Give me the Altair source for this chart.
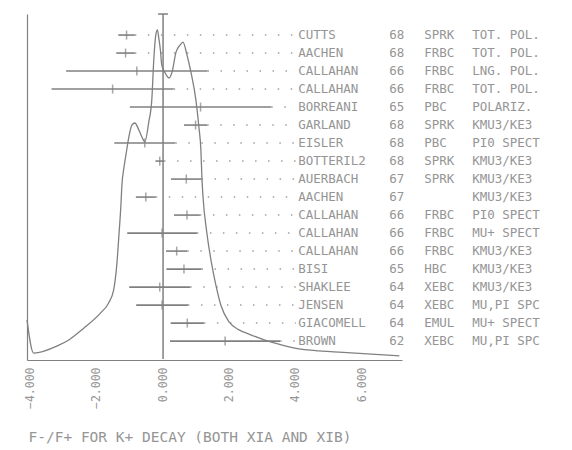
import altair as alt
import pandas as pd

# ---------------- data ----------------
names = ["CUTTS", "AACHEN", "CALLAHAN", "CALLAHAN", "BORREANI", "GARLAND", "EISLER",
         "BOTTERIL2", "AUERBACH", "AACHEN", "CALLAHAN", "CALLAHAN", "CALLAHAN", "BISI",
         "SHAKLEE", "JENSEN", "GIACOMELL", "BROWN"]
years = ["68", "68", "66", "66", "65", "68", "68", "68", "67", "67", "66", "66", "66",
         "65", "64", "64", "64", "62"]
detectors = ["SPRK", "FRBC", "FRBC", "FRBC", "PBC", "SPRK", "PBC", "SPRK", "SPRK", "",
             "FRBC", "FRBC", "FRBC", "HBC", "XEBC", "XEBC", "EMUL", "XEBC"]
comments = ["TOT. POL.", "TOT. POL.", "LNG. POL.", "TOT. POL.", "POLARIZ.", "KMU3/KE3",
            "PI0 SPECT", "KMU3/KE3", "KMU3/KE3", "KMU3/KE3", "PI0 SPECT", "MU+ SPECT",
            "KMU3/KE3", "KMU3/KE3", "KMU3/KE3", "MU,PI SPC", "MU+ SPECT", "MU,PI SPC"]
values = [-1.10, -1.13, -0.79, -1.52, 1.13, 0.98, -0.55, -0.10, 0.70, -0.52, 0.72,
          -0.03, 0.41, 0.63, -0.10, -0.03, 0.73, 1.87]
errors = [0.25, 0.28, 2.13, 1.84, 2.13, 0.35, 0.92, 0.13, 0.46, 0.30, 0.39, 1.05,
          0.32, 0.53, 0.92, 0.78, 0.50, 1.66]

# ideogram curve (x, relative height)
curve_x = [-4.10, -3.90, -3.14, -2.84, -2.39, -1.88, -1.64, -1.49, -1.39, -1.33, -1.27,
           -1.24, -1.18, -1.12, -1.03, -0.94, -0.85, -0.73, -0.64, -0.55, -0.43, -0.34,
           -0.28, -0.22, -0.17, -0.13, -0.08, -0.04, 0.05, 0.18, 0.27, 0.39, 0.51, 0.60,
           0.72, 0.84, 0.99, 1.08, 1.14, 1.17, 1.20, 1.32, 1.47, 1.59, 1.74, 1.99, 2.29,
           2.59, 3.05, 3.59, 4.10, 5.30, 7.12]
curve_h = [0.116, 0.020, 0.043, 0.058, 0.092, 0.136, 0.165, 0.202, 0.280, 0.361, 0.448,
           0.506, 0.555, 0.592, 0.645, 0.679, 0.685, 0.665, 0.645, 0.630, 0.688, 0.751,
           0.867, 0.939, 0.954, 0.931, 0.896, 0.853, 0.832, 0.815, 0.832, 0.890, 0.910,
           0.919, 0.882, 0.832, 0.751, 0.673, 0.607, 0.529, 0.477, 0.367, 0.275, 0.217,
           0.159, 0.110, 0.087, 0.075, 0.058, 0.043, 0.032, 0.023, 0.012]

avg_value = [0.0]
avg_error = [0.15]

tick_values = [-4, -2, 0, 2, 4, 6]
X_MIN, X_MAX = -4.1, 7.2
Y_MIN, Y_MAX = -0.05, 19.17
LEADER_END = 4.0
LABEL_X = 4.07
TITLE = "F-/F+ FOR K+ DECAY (BOTH XIA AND XIB)"

# ---------------- tables ----------------
n = len(names)
rows = pd.DataFrame({
    "name": names, "year": years, "det": detectors, "comment": comments,
    "value": values, "err": errors,
})
rows["pos"] = [n - i for i in range(n)]
rows["lo"] = rows["value"] - rows["err"]
rows["hi"] = rows["value"] + rows["err"]
rows["lead_end"] = LEADER_END
rows["label_x"] = LABEL_X

curve = pd.DataFrame({"x": curve_x, "h": curve_h})
avg = pd.DataFrame({"v": avg_value, "e": avg_error})
avg["lo"] = avg["v"] - avg["e"]
avg["hi"] = avg["v"] + avg["e"]
avg["ybot"] = 0.0
avg["ytop"] = Y_MAX

FONT = "DejaVu Sans Mono"
GREY = "#959595"
LINE = "#808080"

xscale = alt.Scale(domain=[X_MIN, X_MAX], nice=False, zero=False)
yscale = alt.Scale(domain=[Y_MIN, Y_MAX], nice=False, zero=False)

xaxis = alt.Axis(values=tick_values, format=".3f", labelAngle=270, labelAlign="right",
                 labelBaseline="middle", labelPadding=7, labelFont=FONT, labelFontSize=11.5,
                 labelColor=GREY, ticks=False, grid=False, domainColor=LINE,
                 domainWidth=1.2, title=TITLE, titleFont=FONT, titleFontSize=14.5,
                 titleFontWeight="normal", titleColor=GREY, titleAnchor="start",
                 titleAlign="left", titleBaseline="middle", titleX=1, titleY=77)
yaxis = alt.Axis(labels=False, ticks=False, grid=False, title=None, domainColor=LINE,
                 domainWidth=1.2, orient="left")

base = alt.Chart(rows)

bars = base.mark_rule(color=LINE, strokeWidth=1.6).encode(
    x=alt.X("lo:Q", scale=xscale, axis=xaxis),
    x2="hi:Q",
    y=alt.Y("pos:Q", scale=yscale, axis=yaxis),
)
centers = base.mark_tick(orient="vertical", size=9, thickness=1.5, color=LINE).encode(
    x=alt.X("value:Q", scale=xscale),
    y=alt.Y("pos:Q", scale=yscale),
)
leaders = base.mark_rule(color="#a0a0a0", strokeWidth=1.5, strokeDash=[1.5, 11.5]).encode(
    x=alt.X("hi:Q", scale=xscale),
    x2="lead_end:Q",
    y=alt.Y("pos:Q", scale=yscale),
)

def col(field, dx):
    return base.mark_text(font=FONT, fontSize=12.5, color=GREY, align="left",
                          baseline="middle", dx=dx).encode(
        x=alt.X("label_x:Q", scale=xscale),
        y=alt.Y("pos:Q", scale=yscale),
        text=f"{field}:N",
    )

avg_line = alt.Chart(avg).mark_rule(color=LINE, strokeWidth=1.5).encode(
    x=alt.X("v:Q", scale=xscale),
    y=alt.Y("ybot:Q", scale=yscale),
    y2="ytop:Q",
)
avg_cap = alt.Chart(avg).mark_rule(color=LINE, strokeWidth=1.5).encode(
    x=alt.X("lo:Q", scale=xscale),
    x2="hi:Q",
    y=alt.Y("ytop:Q", scale=yscale),
)

row_layer = alt.layer(bars, centers, leaders, avg_line, avg_cap,
                      col("name", 0), col("year", 91), col("det", 126), col("comment", 174))

curve_layer = alt.Chart(curve).mark_line(color=LINE, strokeWidth=1.3,
                                         interpolate="monotone").encode(
    x=alt.X("x:Q", scale=xscale),
    y=alt.Y("h:Q", scale=alt.Scale(domain=[0, 1], nice=False, zero=False), axis=None),
    order="x:Q",
)

chart = alt.layer(row_layer, curve_layer).resolve_scale(y="independent").properties(
    width=375, height=346,
    autosize=alt.AutoSizeParams(type="none"),
    padding={"left": 27, "top": 14, "right": 170, "bottom": 90},
    background="white",
).configure_view(stroke=None)

chart.save("out.html", embed_options={"renderer": "svg", "actions": False})
